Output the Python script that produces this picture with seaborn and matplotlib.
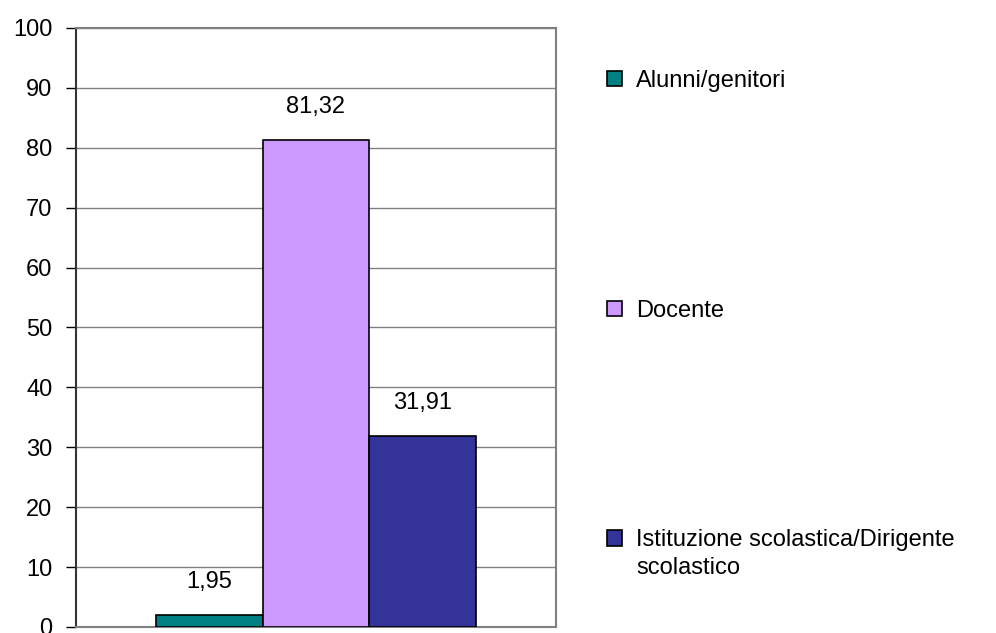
import numpy as np
import pandas as pd
import seaborn as sns
import matplotlib.pyplot as plt

# DATA
categories = ['Alunni/genitori', 'Docente', 'Istituzione scolastica/Dirigente']
label_extra = 'scolastico'   # second line of the last legend label
values = [1.95, 81.32, 31.91]
colors = ['#008080', '#CC99FF', '#333399']
yticks = [0, 10, 20, 30, 40, 50, 60, 70, 80, 90, 100]

df = pd.DataFrame({'grp': [''] * 3, 'cat': categories, 'val': values})

sns.set_style('white')
plt.rcParams['font.family'] = ['Liberation Sans Narrow', 'Liberation Sans', 'DejaVu Sans']
plt.rcParams['text.color'] = 'black'
plt.rcParams['ytick.color'] = 'black'
plt.rcParams['ytick.labelcolor'] = 'black'
FS = 17

fig = plt.figure(figsize=(9.96, 6.33), dpi=100)
ax = fig.add_axes([0.0763, 0.0095, 0.4819, 0.9463])

sns.barplot(data=df, x='grp', y='val', hue='cat', palette=colors, width=0.665,
            edgecolor='black', linewidth=1.2, saturation=1, ax=ax, zorder=3)

ax.set_xlim(-0.5, 0.5)
ax.set_ylim(0, 100)
ax.set_yticks(yticks)
ax.set_yticklabels([str(t) for t in yticks], fontsize=FS, color='black')
ax.set_xticks([])
ax.set_xlabel('')
ax.set_ylabel('')
ax.yaxis.grid(True, color='#808080', linewidth=1, zorder=0)
ax.tick_params(axis='y', direction='out', length=7, width=1, color='black', left=True, pad=10)

for s in ['top', 'right', 'bottom']:
    ax.spines[s].set_color('#808080')
    ax.spines[s].set_linewidth(1.5)
ax.spines['left'].set_color('#333333')
ax.spines['left'].set_linewidth(1.5)

for cont in ax.containers:
    for bar in cont:
        h = bar.get_height()
        ax.annotate(f'{h:.2f}'.replace('.', ','), (bar.get_x() + bar.get_width() / 2, h),
                    xytext=(0, 16), textcoords='offset points',
                    ha='center', va='bottom', fontsize=FS, color='black')

handles, labels = ax.get_legend_handles_labels()
leg = ax.legend(handles, labels, loc='upper left', bbox_to_anchor=(1.106, 0.93), frameon=False,
                fontsize=FS, handlelength=0.65, handleheight=0.65, handletextpad=0.6,
                labelspacing=8.8, borderaxespad=0, borderpad=0, labelcolor='black')

# second line of the last label, placed under the legend text
fig.canvas.draw()
bb = leg.get_texts()[2].get_window_extent().transformed(fig.transFigure.inverted())
fig.text(bb.x0, bb.y0 - 0.008, label_extra, ha='left', va='top', fontsize=FS, color='black')

fig.savefig('out.png', dpi=100)
